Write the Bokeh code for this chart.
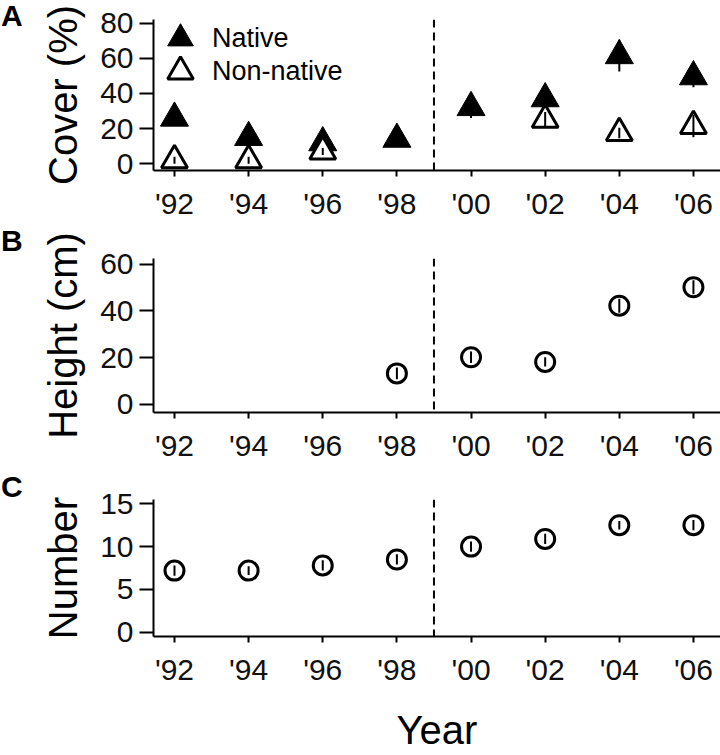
import math
from bokeh.plotting import figure
from bokeh.layouts import column, row
from bokeh.models import FixedTicker, Span, Legend, LegendItem, Range1d, Div
from bokeh.embed import file_html
from bokeh.resources import INLINE

nan = math.nan

# ---------------- data ----------------
years = [1992, 1994, 1996, 1998, 2000, 2002, 2004, 2006]
year_labels = ["'92", "'94", "'96", "'98", "'00", "'02", "'04", "'06"]
treatment_year = 1999

native_cover = [26, 15, 12, 14, 32, 37, 61.5, 49.5]
native_cover_se = [4, 2.5, 3, 2.5, 6, 5, 9, 6]
nonnative_cover = [2, 2, 7, nan, nan, 25, 17.5, 21.5]
nonnative_cover_se = [2, 2, 2, nan, nan, 4.5, 3, 6.4]

height_cm = [nan, nan, nan, 13.2, 20.1, 18.1, 42.2, 50.1]
height_se = [nan, nan, nan, 2.5, 2.5, 2.0, 3.0, 3.0]

number = [7.2, 7.2, 7.8, 8.5, 10.0, 10.9, 12.5, 12.5]
number_se = [0.6, 0.5, 0.6, 0.6, 0.6, 0.6, 0.5, 0.6]

cover_ticks = [0, 20, 40, 60, 80]
height_ticks = [0, 20, 40, 60]
number_ticks = [0, 5, 10, 15]

FONT = "Liberation Sans"
X_RANGE = (1991.434, 2006.73)
LETTER_W = 28
LEFT = 153 - LETTER_W
WIDTH = 720 - LETTER_W


def lo_hi(vals, errs):
    lo = [v - e for v, e in zip(vals, errs)]
    hi = [v + e for v, e in zip(vals, errs)]
    return lo, hi


def letter_panel(letter, height, shift_top):
    html = ('<div style="margin-top:%dpx; padding-left:1px; font-family:\'Liberation Sans\'; '
            'font-weight:bold; font-size:30px; line-height:30px; color:black;">%s</div>'
            % (shift_top, letter))
    return Div(text=html, width=LETTER_W, height=height, margin=0)


def make_panel(height, top, bottom, yr, yticks, ylabel, xlabel=None):
    p = figure(width=WIDTH, height=height,
               x_range=Range1d(*X_RANGE), y_range=Range1d(*yr),
               output_backend="svg", toolbar_location=None,
               min_border_left=LEFT, min_border_right=0,
               min_border_top=top, min_border_bottom=bottom)
    p.outline_line_color = None
    p.xgrid.visible = False
    p.ygrid.visible = False
    p.background_fill_color = "white"
    p.border_fill_color = "white"

    ax = p.xaxis[0]
    ax.ticker = FixedTicker(ticks=years)
    ax.major_label_overrides = dict(zip(years, year_labels))
    ay = p.yaxis[0]
    ay.ticker = FixedTicker(ticks=yticks)
    ay.axis_label = ylabel
    for a in (ax, ay):
        a.axis_line_width = 2
        a.axis_line_color = "black"
        a.major_tick_line_width = 2
        a.major_tick_line_color = "black"
        a.major_tick_in = 0
        a.minor_tick_in = 0
        a.minor_tick_out = 0
        a.major_label_text_font = FONT
        a.major_label_text_font_size = "30px"
        a.major_label_text_color = "#111111"
        a.axis_label_text_font = FONT
        a.axis_label_text_font_size = "40px"
        a.axis_label_text_font_style = "normal"
        a.axis_label_text_color = "black"
    ax.major_tick_out = 6
    ax.major_label_standoff = 10
    ay.major_tick_out = 14
    ay.major_label_standoff = 6
    ay.axis_label_standoff = 12
    if xlabel:
        ax.axis_label = xlabel
        ax.axis_label_standoff = 19

    p.add_layout(Span(location=treatment_year, dimension="height",
                      line_color="black", line_width=2, line_dash="8 5"))
    return p


# ---------------- panel A ----------------
hA = 228
pA = make_panel(hA, 19, 58, (-3.8, 82.0), cover_ticks, "Cover (%)")
rn = pA.scatter(years, native_cover, marker="triangle", size=28,
                fill_color="black", line_color="black", line_width=1)
lo, hi = lo_hi(native_cover, native_cover_se)
pA.segment(years, lo, years, hi, line_color="black", line_width=2)
rnn = pA.scatter(years, nonnative_cover, marker="triangle", size=26,
                 fill_color="white", line_color="black", line_width=3)
lo, hi = lo_hi(nonnative_cover, nonnative_cover_se)
pA.segment(years, lo, years, hi, line_color="black", line_width=2)

legend_style = dict(orientation="vertical", glyph_width=64, glyph_height=70,
                    label_standoff=0, padding=0, margin=0,
                    border_line_color=None, background_fill_alpha=0,
                    label_text_font=FONT, label_text_font_size="27px",
                    label_text_color="black")
pA.add_layout(Legend(items=[LegendItem(label="Native", renderers=[rn])],
                     location=(-5, 97), **legend_style))
pA.add_layout(Legend(items=[LegendItem(label="Non-native", renderers=[rnn])],
                     location=(-5, 64), **legend_style))

# ---------------- panel B ----------------
hB = 242
pB = make_panel(hB, 30, 58, (-3.55, 62.4), height_ticks, "Height (cm)")
pB.scatter(years, height_cm, marker="circle", size=19,
           fill_color="white", line_color="black", line_width=3)
lo, hi = lo_hi(height_cm, height_se)
pB.segment(years, lo, years, hi, line_color="black", line_width=2)

# ---------------- panel C ----------------
hC = 284
pC = make_panel(hC, 29, 102, (-0.49, 15.5), number_ticks, "Number", xlabel="Year")
pC.scatter(years, number, marker="circle", size=19,
           fill_color="white", line_color="black", line_width=3)
lo, hi = lo_hi(number, number_se)
pC.segment(years, lo, years, hi, line_color="black", line_width=2)

layout = column(
    row(letter_panel("A", hA, 1), pA, spacing=0),
    row(letter_panel("B", hB, -2), pB, spacing=0),
    row(letter_panel("C", hC, 2), pC, spacing=0),
    spacing=0)

with open("out.html", "w") as f:
    f.write(file_html(layout, INLINE))
